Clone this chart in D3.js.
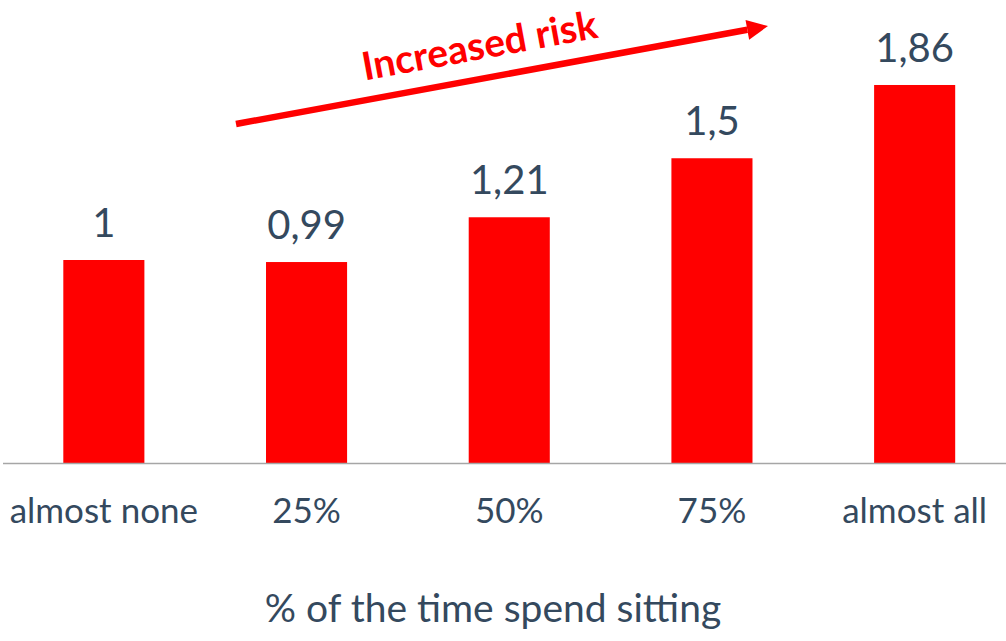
<!DOCTYPE html>
<html>
<head>
<meta charset="utf-8">
<script src="https://cdn.jsdelivr.net/npm/d3@7"></script>
<style>
  body { margin: 0; background: #fff; }
  text { font-family: Lato, "Open Sans", sans-serif; }
</style>
</head>
<body>
<div id="chart"></div>
<script>
// data
var categories = ["almost none", "25%", "50%", "75%", "almost all"];
var values = [1, 0.99, 1.21, 1.5, 1.86];
var valueLabels = ["1", "0,99", "1,21", "1,5", "1,86"];
var axisTitle = "% of the time spend sitting";
var arrowLabel = "Increased risk";

var width = 1006, height = 641;
var baseY = 463.5;
var textColor = "#34495e";

var svg = d3.select("#chart")
  .append("svg")
    .attr("width", width)
    .attr("height", height);

var x = d3.scaleBand()
    .domain(categories)
    .range([2.5, 1016])
    .paddingInner(0.6)
    .paddingOuter(0.3);

var y = d3.scaleLinear()
    .domain([0, 2])
    .range([baseY, baseY - 407]);

// bars
svg.selectAll("rect.bar")
  .data(values)
  .enter().append("rect")
    .attr("class", "bar")
    .attr("x", function(d, i) { return x(categories[i]); })
    .attr("y", function(d) { return y(d); })
    .attr("width", x.bandwidth())
    .attr("height", function(d) { return baseY - y(d); })
    .attr("fill", "#ff0000");

// value labels
svg.selectAll("text.val")
  .data(values)
  .enter().append("text")
    .attr("class", "val")
    .attr("x", function(d, i) { return x(categories[i]) + x.bandwidth() / 2; })
    .attr("y", function(d) { return y(d) - 23; })
    .attr("text-anchor", "middle")
    .style("font-size", "40px")
    .style("fill", textColor)
    .text(function(d, i) { return valueLabels[i]; });

// x axis
var xAxis = svg.append("g")
    .attr("transform", "translate(0," + baseY + ")")
    .call(d3.axisBottom(x).tickSize(0).tickPadding(35));
xAxis.select(".domain")
    .attr("d", "M3,0H1006")
    .attr("stroke", "#a6a6a6")
    .attr("stroke-width", 1.5);
xAxis.selectAll(".tick text")
    .style("font-size", "35px")
    .style("fill", textColor)
    .attr("dy", "0.71em");

// axis title
svg.append("text")
    .attr("x", 493)
    .attr("y", 622)
    .attr("text-anchor", "middle")
    .style("font-size", "39px")
    .style("fill", textColor)
    .text(axisTitle);

// arrow
var x0 = 236, y0 = 124, x1 = 768, y1 = 26;
var ang = Math.atan2(y1 - y0, x1 - x0);
var headLen = 21, headHalf = 10;
var bx = x1 - headLen * Math.cos(ang), by = y1 - headLen * Math.sin(ang);

svg.append("line")
    .attr("x1", x0).attr("y1", y0)
    .attr("x2", bx).attr("y2", by)
    .attr("stroke", "#ff0000")
    .attr("stroke-width", 6.5);

svg.append("path")
    .attr("d", "M" + x1 + "," + y1 +
      "L" + (bx + headHalf * Math.sin(ang)) + "," + (by - headHalf * Math.cos(ang)) +
      "L" + (bx - headHalf * Math.sin(ang)) + "," + (by + headHalf * Math.cos(ang)) + "Z")
    .attr("fill", "#ff0000");

svg.append("text")
    .attr("transform", "translate(482,59) rotate(" + (ang * 180 / Math.PI) + ")")
    .attr("text-anchor", "middle")
    .style("font-size", "39px")
    .style("font-weight", "bold")
    .style("fill", "#ff0000")
    .text(arrowLabel);
</script>
</body>
</html>
